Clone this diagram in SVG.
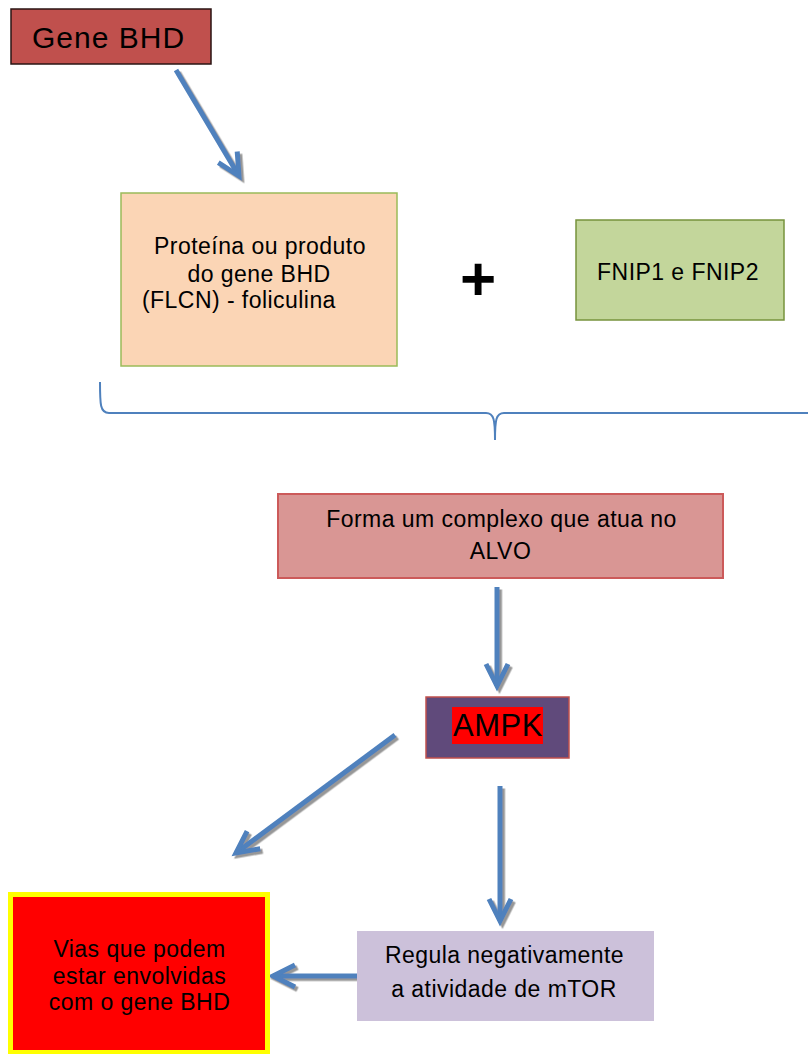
<svg xmlns="http://www.w3.org/2000/svg" width="808" height="1054" viewBox="0 0 808 1054">
  <defs>
    <style>
      text { font-family: "Liberation Sans", Arial, sans-serif; fill: #000; }
      .body { font-size: 23px; letter-spacing: 0.45px; }
      .mid { text-anchor: middle; }
      .conn { fill: none; stroke: #4f81bd; stroke-width: 5; marker-end: url(#chev); }
      .brace { fill: none; stroke: #4f81bd; stroke-width: 2; }
    </style>
    <marker id="chev" markerUnits="userSpaceOnUse" viewBox="-30 -20 40 40" refX="0" refY="0" markerWidth="40" markerHeight="40" orient="auto">
      <path d="M -22 -11 L 0 0 L -22 11" fill="none" stroke="#4f81bd" stroke-width="5" stroke-linejoin="miter" stroke-linecap="butt"/>
    </marker>
    <filter id="shadow" x="-20%" y="-20%" width="140%" height="140%">
      <feDropShadow dx="2.5" dy="2.5" stdDeviation="0.6" flood-color="#8c8c8c" flood-opacity="0.9"/>
    </filter>
  </defs>

  <rect width="808" height="1054" fill="#ffffff"/>

  <!-- connectors -->
  <g id="connectors">
    <g filter="url(#shadow)">
      <path class="conn" d="M 176 70 L 239 176"/>
      <path class="conn" d="M 497 587 L 497 686"/>
      <path class="conn" d="M 395 735 L 236 853"/>
      <path class="conn" d="M 500 786 L 500 921"/>
      <path class="conn" d="M 357 976 L 273 976"/>
    </g>
    <path class="brace" d="M 100 382 C 100 404 100 413 109 413 L 486 413 C 494 413 495 420 495 440 C 495 420 496 413 504 413 L 808 413"/>
  </g>

  <g id="gene-bhd">
    <rect x="11" y="9" width="200" height="55" fill="#c0504d" stroke="#2a1413" stroke-width="1.5"/>
    <text x="32" y="48" font-size="30" letter-spacing="1">Gene BHD</text>
  </g>

  <g id="proteina">
    <rect x="121" y="193" width="276" height="173" fill="#fbd5b5" stroke="#9bbb59" stroke-width="1.5"/>
    <text class="body mid" x="260" y="254">Proteína ou produto</text>
    <text class="body mid" x="259" y="282">do gene BHD</text>
    <text class="body" x="142" y="308">(FLCN) - foliculina</text>
  </g>

  <g id="plus">
    <text class="mid" x="478" y="300" font-size="62" font-weight="bold">+</text>
  </g>

  <g id="fnip">
    <rect x="576" y="220" width="208" height="100" fill="#c3d69b" stroke="#77933c" stroke-width="1.5"/>
    <text class="body mid" x="678" y="280">FNIP1 e FNIP2</text>
  </g>

  <g id="complexo">
    <rect x="278" y="494" width="445" height="84" fill="#d99694" stroke="#cc5a5a" stroke-width="2"/>
    <text class="body mid" x="501.5" y="527">Forma um complexo que atua no</text>
    <text class="body mid" x="500.5" y="559">ALVO</text>
  </g>

  <g id="ampk">
    <rect x="426" y="697" width="143" height="61" fill="#604a7b" stroke="#c0504d" stroke-width="1.5"/>
    <rect x="452" y="707" width="91" height="37" fill="#ff0000"/>
    <text x="453" y="736" font-size="31" letter-spacing="0.5">AMPK</text>
  </g>

  <g id="mtor">
    <rect x="357" y="931" width="297" height="90" fill="#ccc1da"/>
    <text class="body mid" x="504.5" y="963">Regula negativamente</text>
    <text class="body mid" x="504" y="997">a atividade de mTOR</text>
  </g>

  <g id="vias">
    <rect x="10.5" y="894.5" width="257" height="158" fill="#ff0000" stroke="#ffff00" stroke-width="5"/>
    <text class="body mid" x="139.5" y="957">Vias que podem</text>
    <text class="body mid" x="139.5" y="984">estar envolvidas</text>
    <text class="body mid" x="139.5" y="1010">com o gene BHD</text>
  </g>
</svg>
